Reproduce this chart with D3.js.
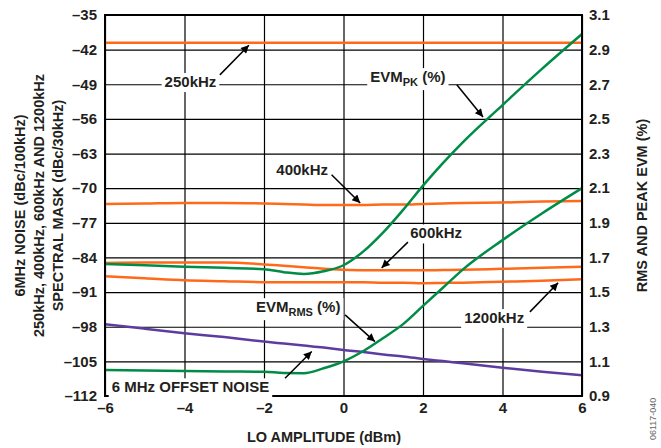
<!DOCTYPE html>
<html>
  <head>
    <meta charset="UTF-8">
    <title>LO amplitude sweep</title>
    <script src="https://d3js.org/d3.v7.min.js"></script>
    <style>
      body { margin: 0; background: #fff; }
      text { font-family: "Liberation Sans", Arial, sans-serif; font-weight: bold; fill: #231f20; }
      .tick text { font-size: 15px; }
      .tick line { stroke: #000; stroke-width: 1.2; }
      .axis-label { font-size: 14.5px; }
      .note { font-size: 15px; }
      .series { fill: none; stroke-width: 2.5; stroke-linejoin: round; }
      .fig-id { font-size: 9px; font-weight: normal; fill: #666; }
    </style>
  </head>
  <body>
    <div id="chart"></div>
<script>
  // LO amplitude (dBm), common x for all curves
  var loAmp = [-6, -5, -4, -3, -2, -1.5, -1, -0.5, 0, 0.5, 1, 1.5, 2, 2.5, 3, 4, 5, 6];

  // spectral mask / noise, left axis (dBc)
  var mask250k  = [-40.6, -40.6, -40.6, -40.6, -40.6, -40.6, -40.6, -40.6, -40.6, -40.6, -40.6, -40.6, -40.6, -40.6, -40.6, -40.6, -40.6, -40.6];
  var mask400k  = [-73.2, -73.1, -73.0, -73.0, -73.1, -73.2, -73.3, -73.4, -73.4, -73.4, -73.3, -73.3, -73.2, -73.1, -73.0, -72.9, -72.7, -72.6];
  var mask600k  = [-85.1, -85.0, -85.0, -85.0, -85.4, -85.7, -86.0, -86.3, -86.5, -86.6, -86.6, -86.6, -86.6, -86.55, -86.5, -86.3, -86.1, -85.9];
  var mask1200k = [-87.8, -88.2, -88.6, -88.8, -89.0, -89.0, -89.0, -89.0, -89.0, -89.0, -89.1, -89.1, -89.2, -89.15, -89.1, -88.9, -88.7, -88.4];
  var noise6M   = [-97.5, -98.4, -99.3, -100.1, -101.0, -101.4, -101.8, -102.2, -102.7, -103.1, -103.6, -104.0, -104.5, -104.95, -105.4, -106.3, -107.1, -107.8];

  // EVM, right axis (%)
  var evmRms = [1.05, 1.047, 1.045, 1.042, 1.04, 1.033, 1.032, 1.06, 1.10, 1.16, 1.235, 1.315, 1.42, 1.525, 1.63, 1.80, 1.955, 2.10];
  var evmPk  = [1.662, 1.655, 1.647, 1.64, 1.632, 1.615, 1.605, 1.62, 1.655, 1.735, 1.845, 1.975, 2.115, 2.245, 2.365, 2.58, 2.79, 2.99];

  // tick labels
  var xTicks = [-6, -4, -2, 0, 2, 4, 6];
  var leftTicks = [-35, -42, -49, -56, -63, -70, -77, -84, -91, -98, -105, -112];
  var rightTicks = [0.9, 1.1, 1.3, 1.5, 1.7, 1.9, 2.1, 2.3, 2.5, 2.7, 2.9, 3.1];

  var orange = "#ff6a1a", green = "#008c46", purple = "#5e3c9f";

  var margin = {top: 15, right: 79, bottom: 52, left: 105},
      width = 661 - margin.left - margin.right,
      height = 448 - margin.top - margin.bottom;

  var svg = d3.select("#chart")
    .append("svg")
      .attr("width", 661)
      .attr("height", 448);

  svg.append("defs").append("marker")
      .attr("id", "head")
      .attr("viewBox", "0 0 10 10")
      .attr("refX", 10).attr("refY", 5)
      .attr("markerWidth", 11).attr("markerHeight", 8)
      .attr("markerUnits", "userSpaceOnUse")
      .attr("orient", "auto")
    .append("path")
      .attr("d", "M0,0L10,5L0,10z")
      .attr("fill", "#000");

  var g = svg.append("g")
      .attr("transform", "translate(" + margin.left + "," + margin.top + ")");

  var x = d3.scaleLinear().domain([-6, 6]).range([0, width]);
  var yL = d3.scaleLinear().domain([-112, -35]).range([height, 0]);
  var yR = d3.scaleLinear().domain([0.9, 3.1]).range([height, 0]);

  // grid + tick labels
  var fmt = function(d) { return d < 0 ? "\u2013" + Math.abs(d) : d; };

  g.append("g")
      .attr("class", "axis")
      .call(d3.axisLeft(yL).tickValues(leftTicks).tickSize(-width).tickPadding(8).tickFormat(fmt))
      .call(s => s.select(".domain").remove());

  g.append("g")
      .attr("class", "axis")
      .attr("transform", "translate(" + width + ",0)")
      .call(d3.axisRight(yR).tickValues(rightTicks).tickSize(0).tickPadding(7).tickFormat(d3.format(".1f")))
      .call(s => s.select(".domain").remove());

  g.append("g")
      .attr("class", "axis")
      .attr("transform", "translate(0," + height + ")")
      .call(d3.axisBottom(x).tickValues(xTicks).tickSize(-height).tickPadding(6).tickFormat(fmt))
      .call(s => s.select(".domain").remove());

  g.selectAll(".tick text").attr("fill", "#231f20");

  // curves
  var lineL = d3.line().curve(d3.curveMonotoneX)
      .x(function(d, i) { return x(loAmp[i]); })
      .y(function(d) { return yL(d); });
  var lineR = d3.line().curve(d3.curveMonotoneX)
      .x(function(d, i) { return x(loAmp[i]); })
      .y(function(d) { return yR(d); });

  [[noise6M, purple], [mask250k, orange], [mask400k, orange], [mask600k, orange], [mask1200k, orange]]
    .forEach(function(s) {
      g.append("path").attr("class", "series").datum(s[0]).attr("stroke", s[1]).attr("d", lineL);
    });
  [evmRms, evmPk].forEach(function(s) {
    g.append("path").attr("class", "series").datum(s).attr("stroke", green).attr("d", lineR);
  });

  // frame
  g.append("rect")
      .attr("width", width).attr("height", height)
      .attr("fill", "none").attr("stroke", "#000").attr("stroke-width", 2);

  // callouts, placed in axis units (x in dBm, y on left scale)
  var notes = [
    {text: "250kHz", at: [-3.85, -48.5], from: [-3.11, -47.1], to: [-2.38, -41.1]},
    {text: "EVM", sub: "PK", tail: " (%)", at: [1.62, -47.5], from: [2.85, -49.1], to: [3.51, -55.6]},
    {text: "400kHz", at: [-1.04, -66.3], from: [-0.30, -67.3], to: [0.42, -73.0]},
    {text: "600kHz", at: [2.33, -79.1], from: [1.62, -80.9], to: [0.96, -86.1]},
    {text: "1200kHz", at: [3.79, -96.2], from: [4.69, -95.0], to: [5.40, -89.1]},
    {text: "EVM", sub: "RMS", tail: " (%)", at: [-1.14, -94.0], from: [0.04, -95.6], to: [0.79, -101.0]},
    {text: "6 MHz OFFSET NOISE", at: [-3.85, -110.2], from: [-1.47, -108.4], to: [-0.80, -103.0]}
  ];

  notes.forEach(function(n) {
    var t = g.append("text")
        .attr("class", "note")
        .attr("x", x(n.at[0]))
        .attr("y", yL(n.at[1]))
        .attr("dy", "0.35em")
        .attr("text-anchor", "middle");
    t.append("tspan").text(n.text);
    if (n.sub) {
      t.append("tspan").attr("dy", 4).attr("font-size", "11px").text(n.sub);
      t.append("tspan").attr("dy", -4).text(n.tail);
    }
    var b = t.node().getBBox();
    g.insert("rect", function() { return t.node(); })
        .attr("x", b.x - 3).attr("y", b.y)
        .attr("width", b.width + 6).attr("height", b.height + 2)
        .attr("fill", "#fff");
    g.append("line")
        .attr("x1", x(n.from[0])).attr("y1", yL(n.from[1]))
        .attr("x2", x(n.to[0])).attr("y2", yL(n.to[1]))
        .attr("stroke", "#000").attr("stroke-width", 1.5)
        .attr("marker-end", "url(#head)");
  });

  // axis titles
  var leftTitle = ["6MHz NOISE (dBc/100kHz)", "250kHz, 400kHz, 600kHz AND 1200kHz", "SPECTRAL MASK (dBc/30kHz)"];
  leftTitle.forEach(function(s, i) {
    svg.append("text")
        .attr("class", "axis-label")
        .attr("transform", "translate(" + (25 + i * 19) + "," + (margin.top + height / 2) + ") rotate(-90)")
        .attr("text-anchor", "middle")
        .text(s);
  });

  svg.append("text")
      .attr("class", "axis-label")
      .attr("transform", "translate(647," + (margin.top + height / 2) + ") rotate(-90)")
      .attr("text-anchor", "middle")
      .text("RMS AND PEAK EVM (%)");

  svg.append("text")
      .attr("class", "axis-label")
      .attr("x", 324).attr("y", 442)
      .attr("text-anchor", "middle")
      .text("LO AMPLITUDE (dBm)");

  svg.append("text")
      .attr("class", "fig-id")
      .attr("transform", "translate(656,440) rotate(-90)")
      .text("06117-040");
</script>
  </body>
</html>
